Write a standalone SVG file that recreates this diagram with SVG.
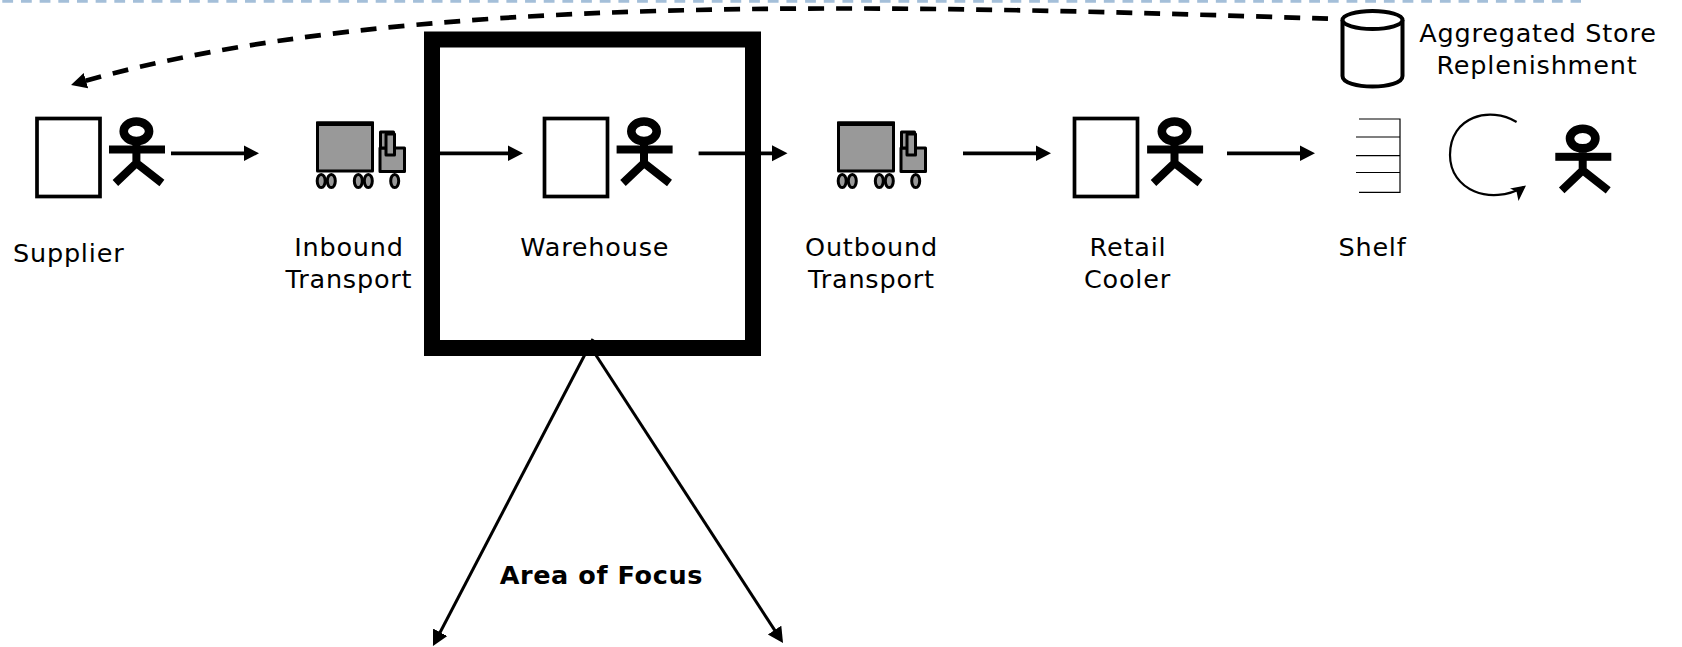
<svg xmlns="http://www.w3.org/2000/svg" width="1682" height="647" viewBox="0 0 1682 647">
<style>
.t{font-family:"DejaVu Sans","Liberation Sans",sans-serif;font-size:25.500px;letter-spacing:.8px;fill:#000;text-anchor:middle}
.b{font-weight:bold;font-size:25.500px;letter-spacing:.6px}
.c{fill:none;stroke:#000;stroke-width:3.8}
.box{fill:#fff;stroke:#000;stroke-width:3.7}
.tk{fill:#999;stroke:#000;stroke-width:3;stroke-linejoin:round}
.wh{fill:#999;stroke:#000;stroke-width:3}
.s{stroke:#000;stroke-width:1.2;fill:none}
</style>
<defs>
<marker id="a" markerUnits="userSpaceOnUse" markerWidth="18" markerHeight="18" refX="7" refY="8" orient="auto"><path d="M0,0L15.500,8L0,16Z" fill="#000"/></marker>
<g id="actor">
<ellipse cx="0" cy="14.300" rx="12.700" ry="9.800" fill="#fff" stroke="#000" stroke-width="8.600"/>
<rect x="-27.400" y="28.500" width="56" height="8" fill="#000"/>
<path d="M0,28V46M-21,66L0,46L25.500,66" fill="none" stroke="#000" stroke-width="8"/>
</g>
<g id="truck">
<rect class="tk" x="317.500" y="123" width="55" height="48"/>
<rect x="316" y="121.500" width="58" height="4.500" fill="#000"/>
<rect class="tk" x="380" y="148" width="24.500" height="23.500"/>
<rect class="tk" x="380.500" y="132" width="13" height="16"/>
<rect class="tk" x="386" y="134" width="8.500" height="21"/>
<ellipse class="wh" cx="321.200" cy="181" rx="4" ry="6.600"/><ellipse class="wh" cx="331.300" cy="181" rx="4" ry="6.600"/>
<ellipse class="wh" cx="358.300" cy="181" rx="4" ry="6.600"/><ellipse class="wh" cx="368.300" cy="181" rx="4" ry="6.600"/>
<ellipse class="wh" cx="394.700" cy="181" rx="4" ry="6.600"/>
</g>
</defs>
<rect width="1682" height="647" fill="#fff"/>
<path id="band" d="M2.300,1.300H1581" fill="none" stroke="#a4bfd9" stroke-width="2.700" stroke-dasharray="10.800 7.870"/>

<g id="focus-frame"><rect x="432" y="39.500" width="321" height="308.500" fill="#fff" stroke="#000" stroke-width="16"/></g>

<g id="supplier">
<rect class="box" x="37" y="118.500" width="63" height="78"/>
<use href="#actor" x="136.400" y="117"/>
<text class="t" x="68.700" y="262">Supplier</text>
</g>
<g id="inbound-transport">
<use href="#truck"/>
<text class="t" x="349" y="256">Inbound</text>
<text class="t" x="349" y="288">Transport</text>
</g>
<g id="warehouse">
<rect class="box" x="544.500" y="118.500" width="63" height="78"/>
<use href="#actor" x="644" y="117"/>
<text class="t" x="594.800" y="256">Warehouse</text>
</g>
<g id="outbound-transport">
<use href="#truck" x="521"/>
<text class="t" x="871.500" y="256">Outbound</text>
<text class="t" x="871.500" y="288">Transport</text>
</g>
<g id="retail-cooler">
<rect class="box" x="1074.500" y="118.500" width="63" height="78"/>
<use href="#actor" x="1174.500" y="117"/>
<text class="t" x="1128" y="256">Retail</text>
<text class="t" x="1127.500" y="288">Cooler</text>
</g>
<g id="shelf">
<path class="s" d="M1359,119H1400V192.300H1359M1356,137H1400M1356,155.700H1400M1356,172.500H1400"/>
<text class="t" x="1372.500" y="256">Shelf</text>
</g>
<g id="shopper">
<use href="#actor" x="1582.700" y="124.300"/>
</g>
<g id="store-replenishment">
<path d="M1342.500,20V76C1342.500,90 1402.500,90 1402.500,76V20" fill="#fff" stroke="#000" stroke-width="4"/>
<ellipse cx="1372.500" cy="20" rx="30" ry="9" fill="#fff" stroke="#000" stroke-width="4"/>
<text class="t" x="1538" y="42">Aggregated Store</text>
<text class="t" x="1537" y="74">Replenishment</text>
</g>
<text id="focus-label" class="t b" x="601.300" y="584">Area of Focus</text>

<g id="connectors">
<path class="c" d="M171,153.300H250.500" marker-end="url(#a)"/>
<path class="c" d="M440,153.300H514.500" marker-end="url(#a)"/>
<path class="c" d="M698.600,153.300H745M761,153.300H779" marker-end="url(#a)"/>
<path class="c" d="M963,153.300H1042.500" marker-end="url(#a)"/>
<path class="c" d="M1227,153.300H1306.500" marker-end="url(#a)"/>
<path d="M1328,18.700C900,5 400,-10 79.200,82.600" fill="none" stroke="#000" stroke-width="4.700" stroke-dasharray="16 12" marker-end="url(#a)"/>
<path d="M1516.600,122C1490,106 1450,116 1450,155C1450,190 1490,206 1524,187" fill="none" stroke="#000" stroke-width="2.200"/>
<path d="M1526,185.500L1510,188.500L1516.500,191.500L1518.500,201Z" fill="#000"/>
<path d="M593,339L436.900,638.500" fill="none" stroke="#000" stroke-width="3" marker-end="url(#a)"/>
<path d="M590,346L778.400,635.900" fill="none" stroke="#000" stroke-width="3" marker-end="url(#a)"/>
</g>
</svg>
